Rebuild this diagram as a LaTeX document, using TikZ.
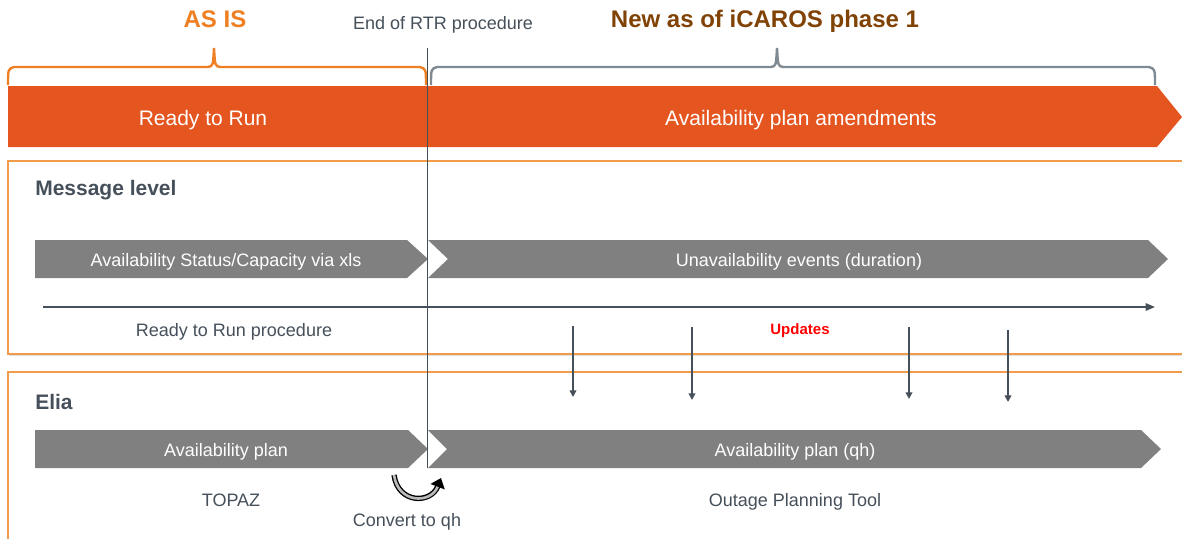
\documentclass[tikz,border=0pt]{standalone}
\usepackage{fontspec}
\setmainfont{Liberation Sans}
\usepackage{tikz}
\usetikzlibrary{positioning}
\usetikzlibrary{shadows}
\usepgflibrary{arrows.meta}

\definecolor{barorange}{RGB}{229,85,32}
\definecolor{asisorange}{RGB}{238,128,35}
\definecolor{newbrown}{RGB}{128,66,5}
\definecolor{chevgray}{RGB}{128,128,128}
\definecolor{slate}{RGB}{70,80,90}
\definecolor{panelline}{RGB}{241,155,75}
\definecolor{bracegray}{RGB}{128,138,146}

\tikzset{
  txt/.style={inner sep=0pt, yshift=-2.5pt, text height=1.45ex, text depth=.3ex, text=slate, font=\fontsize{13.5}{16}\selectfont},
  chevtxt/.style={txt, text=white},
  headtxt/.style={txt, text=white, font=\fontsize{15.75}{18}\selectfont},
  paneltitle/.style={txt, anchor=west, font=\bfseries\fontsize{15.75}{18}\selectfont},
  phasetitle/.style={txt, font=\bfseries\fontsize{18}{21}\selectfont},
  panel/.style={draw=panelline, line width=1.2pt, fill=white, drop shadow={shadow xshift=1pt, shadow yshift=-1.2pt, opacity=0.25}},
  chevron/.style={fill=chevgray},
  update/.style={draw=slate, line width=1.2pt, -{Triangle[length=5pt, width=5pt]}},
}

\begin{document}
\begin{tikzpicture}[x=0.75pt, y=-0.75pt]
    \clip (0,0) rectangle (1182,539);
    \fill[white] (0,0) rectangle (1182,539);

    \draw[panel] (8,161) rectangle (1200,354);
    \draw[panel] (8,372) rectangle (1200,560);

    \fill[barorange] (8,86) -- (1157,86) -- (1182,117) -- (1157,147) -- (8,147) -- cycle;

    \draw[asisorange, line width=1.8pt] (8,85) .. controls (8,69) .. (14,67) -- (208,67) .. controls (213,66) .. (214,48) .. controls (215,66) .. (220,67) -- (420,67) .. controls (426,69) .. (426,85);
    \draw[bracegray, line width=1.8pt] (431,85) .. controls (431,69) .. (437,67) -- (771,67) .. controls (776,66) .. (777,48) .. controls (778,66) .. (783,67) -- (1149,67) .. controls (1155,69) .. (1155,85);

    \node[phasetitle, text=asisorange] (asis) at (215,20) {AS IS};
    \node[txt] (endrtr) at (443,22) {End of RTR procedure};
    \node[phasetitle, text=newbrown] (newphase) at (765,20) {New as of iCAROS phase 1};
    \node[headtxt] (rtr) at (203,118) {Ready to Run};
    \node[headtxt] (amend) at (801,118) {Availability plan amendments};

    \fill[chevron] (35,240) -- (407,240) -- (428,259) -- (407,278) -- (35,278) -- cycle;
    \fill[chevron] (428,240) -- (1148,240) -- (1168,259) -- (1148,278) -- (428,278) -- (448,259) -- cycle;
    \fill[chevron] (35,430) -- (408,430) -- (428,449) -- (408,468) -- (35,468) -- cycle;
    \fill[chevron] (428,430) -- (1141,430) -- (1161,449) -- (1141,468) -- (428,468) -- (447,449) -- cycle;

    \node[paneltitle] (msglevel) at (35,188) {Message level};
    \node[chevtxt] (statusxls) at (226,259) {Availability Status/Capacity via xls};
    \node[chevtxt] (unavail) at (799,259) {Unavailability events (duration)};
    \node[txt] (rtrproc) at (234,329) {Ready to Run procedure};
    \node[txt, text=red, font=\bfseries\fontsize{11.25}{13}\selectfont] (updates) at (800,327) {Updates};

    \node[paneltitle] (elia) at (35,402) {Elia};
    \node[chevtxt] (availplan) at (226,449) {Availability plan};
    \node[chevtxt] (availqh) at (795,449) {Availability plan (qh)};
    \node[txt] (topaz) at (231,499) {TOPAZ};
    \node[txt] (opt) at (795,499) {Outage Planning Tool};
    \node[txt] (convert) at (407,519) {Convert to qh};

    \coordinate (t0) at (43,307);
    \coordinate (t1) at (1155,307);
    \draw[slate, line width=1.3pt, -{Triangle[length=7pt, width=5.5pt]}] (t0) -- (t1);

    \coordinate (u1) at (573,326);
    \coordinate (d1) at (573,397);
    \coordinate (u2) at (692,327);
    \coordinate (d2) at (692,400);
    \coordinate (u3) at (909,327);
    \coordinate (d3) at (909,399);
    \coordinate (u4) at (1008,330);
    \coordinate (d4) at (1008,402);
    \draw[update] (u1) -- (d1);
    \draw[update] (u2) -- (d2);
    \draw[update] (u3) -- (d3);
    \draw[update] (u4) -- (d4);

    \coordinate (rtrtop) at (427,48);
    \coordinate (rtrbottom) at (427,468);
    \draw[slate, line width=0.6pt] (rtrtop) -- (rtrbottom);

    \coordinate (cv0) at (394,475);
    \coordinate (cv1) at (441,478);
    \draw[black, line width=4pt, -{Triangle[length=7pt, width=11pt]}] (cv0) .. controls (398,504) and (431,504) .. (cv1);
    \draw[gray!55, line width=2pt, shorten >=7pt] (cv0) .. controls (398,504) and (431,504) .. (cv1);
\end{tikzpicture}
\end{document}
